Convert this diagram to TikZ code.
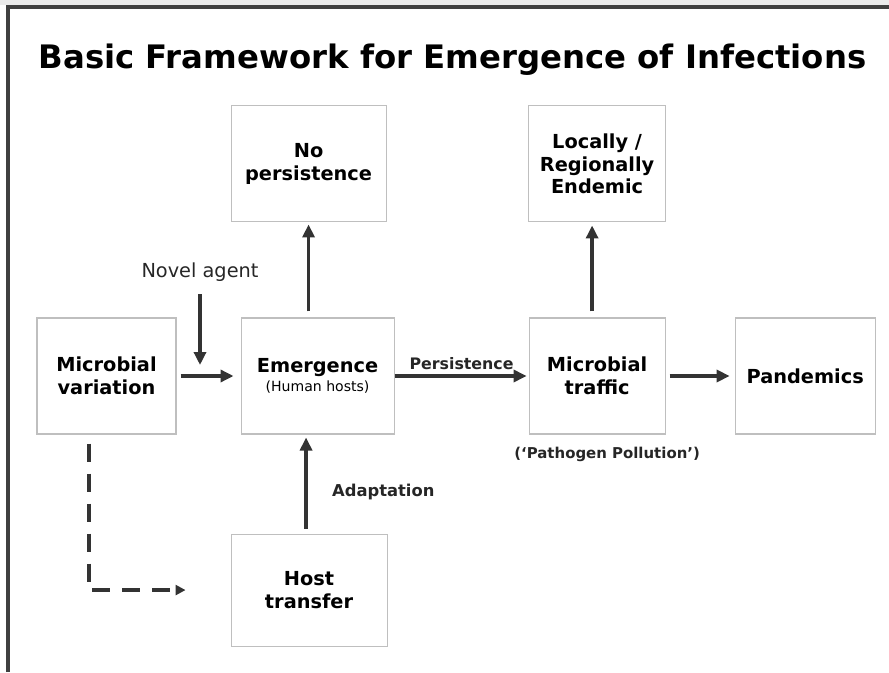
\documentclass[tikz,border=0pt]{standalone}
\usepackage{fontspec}
\setmainfont{DejaVu Sans}
\usetikzlibrary{arrows.meta, positioning, calc}

\begin{document}
\begin{tikzpicture}[
    >={Triangle[width=0.24cm, length=0.26cm]},
    font=\fontsize{11}{13}\selectfont\bfseries,
    box/.style={draw=black!25, line width=0.6pt, align=center, inner sep=2pt, minimum height=2.32cm},
    arrow/.style={->, line width=2.2pt, black!80},
    dasharrow/.style={->, >={Triangle[width=0.2cm, length=0.2cm]}, line width=2.4pt, black!80, dash pattern=on 0.36cm off 0.24cm},
    lbl/.style={inner sep=1pt, black!85}
  ]
    \useasboundingbox (0,0) rectangle (17.78,13.44);
    % frame
    \fill[black!8] (0,13.44) rectangle (17.78,13.34);
    \draw[line width=2.2pt, black!75] (0.16,0) |- (17.78,13.30);
    \node (title) at (9.05,12.24) {\fontsize{18.4}{22}\selectfont Basic Framework for Emergence of Infections};
    % middle row
    \node[box, minimum width=2.78cm] (micvar) at (2.13,5.92) {Microbial\\variation};
    \node[box, minimum width=3.06cm, right=1.28cm of micvar] (emerg)
    {Emergence\\[-2pt]{\fontsize{8}{10}\selectfont\mdseries (Human hosts)}};
    \node[box, minimum width=2.72cm, right=2.68cm of emerg] (traffic) {Microbial\\traffic};
    \node[box, minimum width=2.8cm, right=1.38cm of traffic] (pand) {Pandemics};
    % top and bottom
    \node[box, minimum width=3.1cm, above=1.9cm of emerg, xshift=-0.18cm] (noper) {No\\persistence};
    \node[box, minimum width=2.74cm, above=1.9cm of traffic] (endemic) {Locally /\\Regionally\\Endemic};
    \node[box, minimum width=3.12cm, minimum height=2.24cm, below=1.98cm of emerg, xshift=-0.17cm] (host) {Host\\transfer};
    % side labels
    \coordinate (nvtip) at (4.0,6.14);
    \node[lbl, above=1.62cm of nvtip, font=\fontsize{11}{13}\selectfont] (novel) {Novel agent};
    \node[lbl, below=0.22cm of traffic, xshift=0.2cm, font=\fontsize{8.5}{10}\selectfont\bfseries] (pollu) {(`Pathogen Pollution')};
    % connectors
    \draw[arrow, shorten <=0.08cm, shorten >=0.14cm] (micvar) -- (emerg);
    \draw[arrow, shorten <=0.2cm] (novel.south) -- (nvtip);
    \draw[arrow, shorten >=0.04cm] (emerg) -- node[lbl, above=0.06cm, font=\fontsize{9}{11}\selectfont\bfseries] {Persistence} (traffic);
    \draw[arrow, shorten <=0.08cm, shorten >=0.1cm] (traffic) -- (pand);
    \draw[arrow, shorten <=0.12cm, shorten >=0.04cm] (noper.south |- emerg.north) -- (noper.south);
    \draw[arrow, shorten <=0.12cm, shorten >=0.06cm] ([xshift=-0.1cm]traffic.north) -- ([xshift=-0.1cm]endemic.south);
    \draw[arrow, shorten <=0.1cm, shorten >=0.06cm] ([xshift=-0.06cm]host.north) -- node[lbl, right=0.45cm, pos=0.42, font=\fontsize{9.3}{11}\selectfont\bfseries] {Adaptation} ([xshift=-0.06cm]host.north |- emerg.south);
    \draw[dasharrow, shorten <=0.18cm, shorten >=0.9cm] ([xshift=-0.35cm]micvar.south) |- (host.west);
  \end{tikzpicture}
\end{document}
